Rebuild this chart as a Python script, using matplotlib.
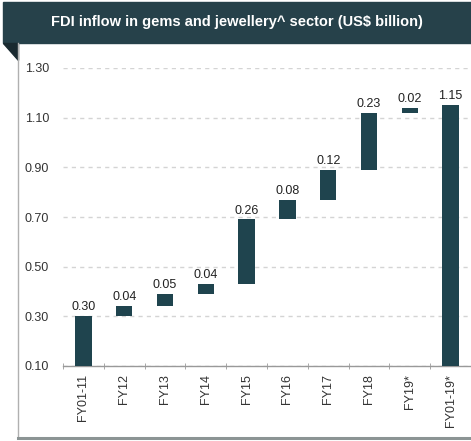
import matplotlib
matplotlib.use("Agg")
import matplotlib.pyplot as plt
from matplotlib.patches import Rectangle, Polygon
from matplotlib.lines import Line2D
import numpy as np

plt.rcParams['font.family'] = ['Liberation Sans', 'DejaVu Sans']

categories = ["FY01-11", "FY12", "FY13", "FY14", "FY15", "FY16", "FY17", "FY18", "FY19*", "FY01-19*"]
increments = [0.20, 0.04, 0.05, 0.04, 0.26, 0.08, 0.12, 0.23, 0.02]
labels = ["0.30", "0.04", "0.05", "0.04", "0.26", "0.08", "0.12", "0.23", "0.02", "1.15"]
total = 1.15
axis_base = 0.10
yticks = [0.10, 0.30, 0.50, 0.70, 0.90, 1.10, 1.30]

W, H = 471, 441
fig = plt.figure(figsize=(W / 100, H / 100), dpi=100)
fig.patch.set_facecolor('white')

def fx(px):
    return px / W

def fy(py):
    return 1 - py / H

# header bar
header_col = '#26414a'
fig.patches.append(Rectangle((fx(3), fy(43)), 1 - fx(3), fy(2) - fy(43),
                             transform=fig.transFigure, color=header_col, zorder=1))
fig.patches.append(Polygon([(fx(3), fy(43)), (fx(18), fy(43)), (fx(18), fy(60))],
                           closed=True, transform=fig.transFigure, color='#1a2a30', zorder=1))
fig.text(fx(237), fy(22), "FDI inflow in gems and jewellery^ sector (US$ billion)",
         color='white', fontsize=10.5, fontweight='bold', ha='center', va='center')

# panel borders
fig.lines.append(Line2D([fx(18), fx(18)], [fy(43), fy(438)], transform=fig.transFigure,
                        color='#b0b0b0', lw=1.0))
fig.lines.append(Line2D([fx(18), 1], [fy(438), fy(438)], transform=fig.transFigure,
                        color='#8c9494', lw=2.2))

ax = fig.add_axes([fx(63), fy(366), 1 - fx(63), fy(68) - fy(366)])

bar_col = '#1f444e'
x = np.arange(len(categories))
bottoms = [axis_base]
tops = []
cur = axis_base
for inc in increments:
    tops.append(cur + inc)
    cur = cur + inc
    bottoms.append(cur)
bottoms = bottoms[:len(increments)]
heights = list(increments)
bottoms.append(axis_base)
heights.append(total - axis_base)

ax.bar(x, heights, bottom=bottoms, width=0.4, color=bar_col, zorder=3)
for xi, b, h, lab in zip(x, bottoms, heights, labels):
    ax.text(xi, b + h + 0.012, lab, ha='center', va='bottom', fontsize=9, color='#222222')

ax.set_xlim(-0.5, (W - 63) / 41 - 0.5)
ax.set_ylim(0.10, 1.30)
ax.set_yticks(yticks)
ax.set_yticklabels([f"{v:.2f}" for v in yticks])
ax.set_xticks(x)
ax.set_xticklabels(categories, rotation=90)
ax.set_xticks(np.arange(-0.5, len(categories), 1), minor=True)
ax.tick_params(axis='x', which='major', length=0, pad=6, labelsize=9, labelcolor='#333333')
ax.tick_params(axis='x', which='minor', length=4, direction='inout', color='#999999')
ax.tick_params(axis='y', length=0, pad=10, labelsize=9, labelcolor='#333333')
ax.grid(axis='y', linestyle=(0, (3, 3)), color='#d4d4d4', lw=1.0, zorder=0)
for s in ['top', 'right', 'left']:
    ax.spines[s].set_visible(False)
ax.spines['bottom'].set_color('#999999')
ax.spines['bottom'].set_linewidth(1.0)
ax.set_facecolor('none')

fig.savefig("out.png", dpi=100, facecolor='white')
